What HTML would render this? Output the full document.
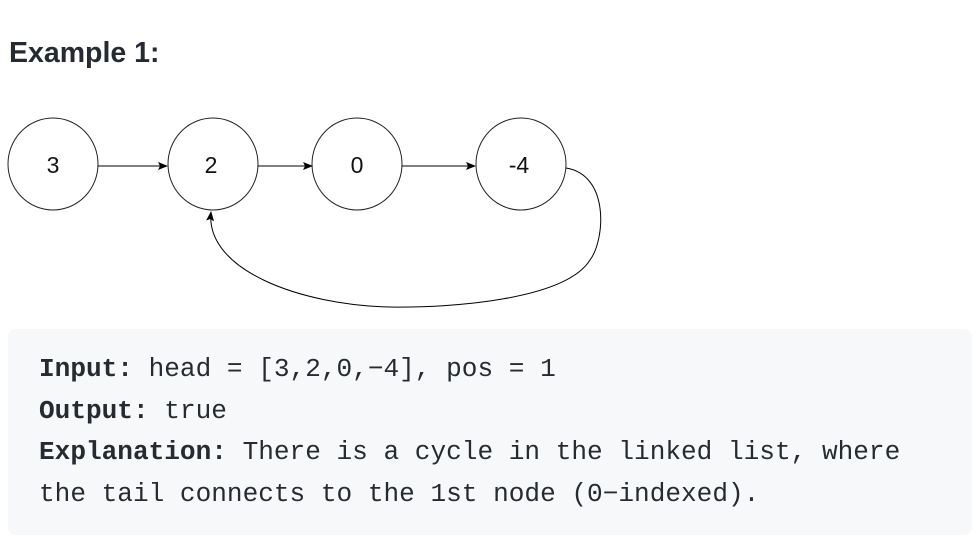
<!DOCTYPE html>
<html><head><meta charset="utf-8"><style>
body{margin:0;width:980px;height:536px;background:#fff;position:relative;overflow:hidden;font-family:"Liberation Sans",sans-serif}
h3{position:absolute;left:9px;top:37px;margin:0;font-size:28.5px;font-weight:bold;color:#262b31}
.box{position:absolute;left:8px;top:329px;width:964px;height:206px;background:#f7f8fa;border-radius:8px}
.code{position:absolute;left:39px;top:349px;font-family:"Liberation Mono",monospace;font-size:26.1px;line-height:41.5px;color:#262b31;white-space:pre}
b{font-weight:bold}
</style></head><body>
<h3>Example 1:</h3>
<svg width="980" height="330" style="position:absolute;left:0;top:0">
<defs><marker id="a" markerWidth="10" markerHeight="8" refX="9" refY="4" orient="auto" markerUnits="userSpaceOnUse"><path d="M0,0 L10,4 L0,8 L2,4 Z" fill="#000"/></marker></defs>
<g fill="#fff" stroke="#222" stroke-width="1">
<ellipse cx="53" cy="164" rx="45" ry="46"/>
<ellipse cx="213" cy="164" rx="45" ry="46"/>
<ellipse cx="357" cy="164" rx="45" ry="46"/>
<ellipse cx="521" cy="164" rx="45" ry="46"/>
</g>
<g stroke="#000" stroke-width="1" fill="none">
<line x1="98" y1="166" x2="167" y2="166" marker-end="url(#a)"/>
<line x1="258" y1="166" x2="312" y2="166" marker-end="url(#a)"/>
<line x1="402" y1="166" x2="475" y2="166" marker-end="url(#a)"/>
<path d="M566,168 C610,175 605,240 590,260 C565,300 450,308 390,307 C300,305 205,270 211,212" marker-end="url(#a)"/>
</g>
<g font-size="23" text-anchor="middle" fill="#111">
<text x="53" y="173">3</text><text x="211" y="173">2</text><text x="357" y="173">0</text><text x="519" y="173">-4</text>
</g>
</svg>
<div class="box"></div>
<div class="code"><b>Input:</b> head = [3,2,0,−4], pos = 1
<b>Output:</b> true
<b>Explanation:</b> There is a cycle in the linked list, where
the tail connects to the 1st node (0−indexed).</div>
</body></html>
